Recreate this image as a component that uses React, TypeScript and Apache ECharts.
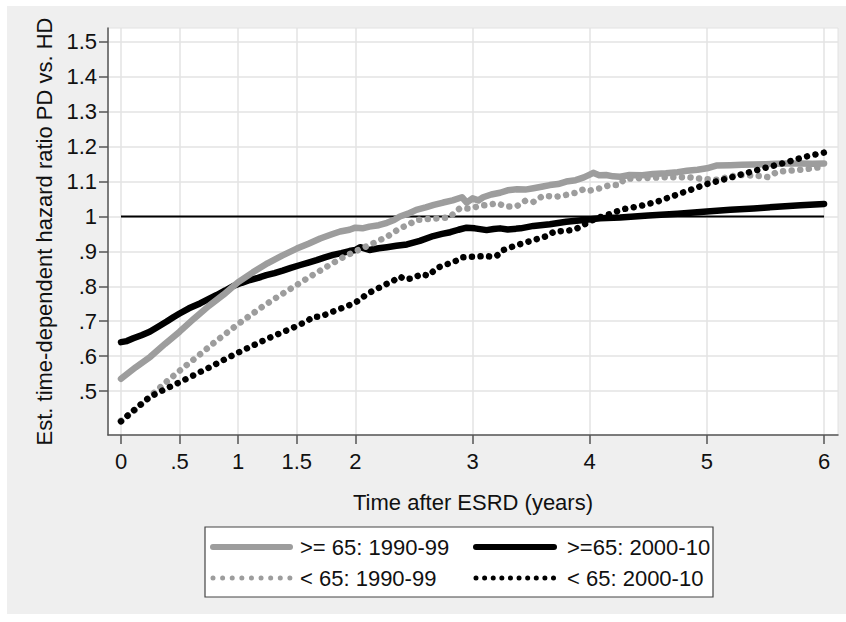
import React, { useEffect, useRef } from "react";
import * as echarts from "echarts";

// ---------- data ----------
const xTicks = [0, 0.5, 1, 1.5, 2, 3, 4, 5, 6];
const yTicks = [0.5, 0.6, 0.7, 0.8, 0.9, 1.0, 1.1, 1.2, 1.3, 1.4, 1.5];
const xTitle = "Time after ESRD (years)";
const yTitle = "Est. time-dependent hazard ratio PD vs. HD";
const seriesNames = [">= 65: 1990-99", ">=65: 2000-10", "< 65: 1990-99", "< 65: 2000-10"];

const refX = [0, 6];
const refY = [1, 1];

// >= 65: 1990-99 (gray solid)
const tA = [0, 0.125, 0.25, 0.375, 0.5, 0.625, 0.75, 0.875, 1.0, 1.125, 1.25, 1.375, 1.5, 1.6, 1.7, 1.8, 1.87, 1.95, 2.0, 2.06, 2.12, 2.2, 2.27, 2.33, 2.38, 2.45, 2.52, 2.6, 2.67, 2.75, 2.83, 2.91, 2.95, 3.0, 3.05, 3.09, 3.16, 3.235, 3.3, 3.38, 3.45, 3.52, 3.6, 3.66, 3.73, 3.8, 3.88, 3.95, 4.0, 4.03, 4.08, 4.14, 4.2, 4.26, 4.34, 4.45, 4.54, 4.65, 4.75, 4.83, 4.92, 5.0, 5.08, 5.2, 5.3, 5.4, 5.5, 5.6, 5.68, 5.8, 5.9, 6.0];
const vA = [0.535, 0.568, 0.598, 0.635, 0.670, 0.708, 0.744, 0.776, 0.812, 0.840, 0.866, 0.888, 0.908, 0.922, 0.937, 0.949, 0.957, 0.962, 0.968, 0.966, 0.971, 0.975, 0.982, 0.990, 1.000, 1.008, 1.019, 1.026, 1.033, 1.040, 1.046, 1.055, 1.040, 1.052, 1.046, 1.055, 1.063, 1.068, 1.075, 1.078, 1.077, 1.081, 1.086, 1.090, 1.093, 1.100, 1.104, 1.112, 1.120, 1.125, 1.118, 1.119, 1.115, 1.114, 1.119, 1.118, 1.122, 1.124, 1.127, 1.131, 1.134, 1.138, 1.146, 1.147, 1.148, 1.149, 1.150, 1.151, 1.152, 1.152, 1.151, 1.152];

// >=65: 2000-10 (black solid)
const tB = [0, 0.05, 0.105, 0.175, 0.245, 0.32, 0.39, 0.45, 0.5, 0.58, 0.674, 0.75, 0.817, 0.89, 0.958, 1.03, 1.1, 1.17, 1.24, 1.31, 1.38, 1.45, 1.53, 1.6, 1.67, 1.74, 1.81, 1.88, 1.95, 2.0, 2.04, 2.12, 2.2, 2.27, 2.35, 2.44, 2.55, 2.665, 2.74, 2.81, 2.88, 2.95, 3.02, 3.12, 3.18, 3.235, 3.3, 3.41, 3.52, 3.66, 3.8, 3.95, 4.09, 4.26, 4.5, 4.75, 5.0, 5.2, 5.4, 5.6, 5.8, 6.0];
const vB = [0.640, 0.643, 0.651, 0.660, 0.670, 0.685, 0.699, 0.712, 0.722, 0.737, 0.751, 0.764, 0.775, 0.788, 0.801, 0.810, 0.818, 0.824, 0.832, 0.838, 0.845, 0.853, 0.861, 0.868, 0.875, 0.883, 0.890, 0.895, 0.901, 0.904, 0.912, 0.904, 0.909, 0.912, 0.916, 0.920, 0.930, 0.944, 0.950, 0.955, 0.962, 0.968, 0.966, 0.961, 0.964, 0.966, 0.963, 0.966, 0.973, 0.978, 0.985, 0.990, 0.995, 0.997, 1.003, 1.008, 1.014, 1.019, 1.023, 1.028, 1.032, 1.036];

// < 65: 1990-99 (gray dotted)
const tC = [0, 0.1, 0.2, 0.3, 0.4, 0.5, 0.6, 0.7, 0.8, 0.9, 1.0, 1.1, 1.2, 1.3, 1.4, 1.5, 1.6, 1.7, 1.8, 1.9, 2.0, 2.15, 2.27, 2.38, 2.45, 2.52, 2.62, 2.72, 2.8, 2.89, 2.98, 3.06, 3.14, 3.21, 3.29, 3.38, 3.45, 3.52, 3.6, 3.72, 3.8, 3.88, 3.95, 4.0, 4.09, 4.17, 4.25, 4.3, 4.45, 4.6, 4.75, 4.86, 4.95, 5.08, 5.17, 5.26, 5.35, 5.45, 5.52, 5.6, 5.7, 5.77, 5.85, 5.92, 6.0];
const vC = [0.415, 0.440, 0.470, 0.500, 0.530, 0.558, 0.585, 0.612, 0.640, 0.666, 0.692, 0.716, 0.740, 0.762, 0.783, 0.804, 0.825, 0.845, 0.865, 0.884, 0.900, 0.923, 0.942, 0.966, 0.976, 0.990, 0.993, 0.995, 0.997, 1.023, 1.023, 1.030, 1.034, 1.038, 1.028, 1.030, 1.045, 1.042, 1.059, 1.057, 1.062, 1.068, 1.078, 1.074, 1.081, 1.090, 1.090, 1.108, 1.110, 1.112, 1.113, 1.112, 1.108, 1.105, 1.112, 1.119, 1.118, 1.116, 1.113, 1.128, 1.131, 1.133, 1.136, 1.139, 1.143];

// < 65: 2000-10 (black dotted)
const tD = [0, 0.12, 0.25, 0.375, 0.5, 0.625, 0.75, 0.875, 1.0, 1.125, 1.25, 1.375, 1.5, 1.6, 1.64, 1.7, 1.77, 1.84, 1.92, 2.0, 2.11, 2.18, 2.25, 2.32, 2.38, 2.42, 2.49, 2.566, 2.623, 2.694, 2.75, 2.808, 2.86, 2.908, 2.979, 3.04, 3.107, 3.16, 3.206, 3.263, 3.32, 3.377, 3.44, 3.505, 3.57, 3.633, 3.704, 3.75, 3.804, 3.875, 3.947, 4.0, 4.06, 4.145, 4.287, 4.43, 4.572, 4.714, 4.857, 5.0, 5.155, 5.311, 5.482, 5.667, 5.823, 6.0];
const vD = [0.413, 0.448, 0.484, 0.505, 0.525, 0.546, 0.567, 0.589, 0.610, 0.630, 0.650, 0.668, 0.686, 0.703, 0.713, 0.713, 0.722, 0.732, 0.742, 0.753, 0.780, 0.792, 0.804, 0.815, 0.828, 0.820, 0.823, 0.835, 0.830, 0.852, 0.860, 0.866, 0.873, 0.883, 0.885, 0.885, 0.887, 0.885, 0.887, 0.904, 0.911, 0.918, 0.924, 0.931, 0.937, 0.944, 0.958, 0.958, 0.959, 0.963, 0.976, 0.985, 0.995, 1.004, 1.021, 1.030, 1.042, 1.059, 1.076, 1.093, 1.107, 1.122, 1.138, 1.154, 1.170, 1.183];

// ---------- styles ----------
const GRAY = "#9d9d9d";
const BLACK = "#000000";
const FONT = '"Liberation Sans", Arial, Helvetica, sans-serif';
const FS = 22;
const OX = 7;
const OY = 6;

const zip = (t: number[], v: number[]) => t.map((x, i) => [x, v[i]]);
const fmt = (v: number) => {
  const s = String(Math.round(v * 10) / 10);
  return s.startsWith("0.") ? s.slice(1) : s;
};

export default function App() {
  const ref = useRef<HTMLDivElement>(null);

  useEffect(() => {
    if (!ref.current) return;
    const chart = echarts.init(ref.current, undefined, { renderer: "svg" });

    const dotted = (w: number, gap: number) => ({ type: [0.01, gap], cap: "round", join: "round", width: w });

    const legendX1 = 213 - OX;
    const legendX2 = 290 - OX;
    const legendX3 = 476 - OX;
    const legendX4 = 554 - OX;
    const row1 = 547 - OY;
    const row2 = 578 - OY;

    const legendText = (text: string, x: number, y: number) => ({
      type: "text",
      x,
      y,
      style: { text, fontSize: FS, fontFamily: FONT, fill: "#111", verticalAlign: "middle", align: "left" },
    });

    chart.setOption({
      animation: false,
      backgroundColor: "#efefef",
      textStyle: { fontFamily: FONT },
      grid: {
        left: 108 - OX,
        top: 28 - OY,
        width: 730,
        height: 407,
        show: true,
        backgroundColor: "#ffffff",
        borderColor: "#e2e2e2",
        borderWidth: 1,
      },
      xAxis: {
        type: "value",
        min: -0.111,
        max: 6.119,
        name: xTitle,
        nameLocation: "middle",
        nameGap: 56,
        nameTextStyle: { fontSize: FS, color: "#111", fontFamily: FONT },
        axisLine: { show: true, onZero: false, lineStyle: { color: "#555", width: 1.5 } },
        axisTick: { show: true, length: 9, customValues: xTicks, lineStyle: { color: "#555", width: 1.5 } },
        axisLabel: { customValues: xTicks, formatter: fmt, fontSize: FS, color: "#111", margin: 15, fontFamily: FONT },
        splitLine: { show: true, lineStyle: { color: "#e3e3e3", width: 1.5 } },
      },
      yAxis: {
        type: "value",
        min: 0.374,
        max: 1.54,
        name: yTitle,
        nameLocation: "middle",
        nameGap: 52,
        nameTextStyle: { fontSize: FS, color: "#111", fontFamily: FONT },
        axisLine: { show: true, onZero: false, lineStyle: { color: "#555", width: 1.5 } },
        axisTick: { show: true, length: 9, customValues: yTicks, lineStyle: { color: "#555", width: 1.5 } },
        axisLabel: { customValues: yTicks, formatter: fmt, fontSize: FS, color: "#111", margin: 11, fontFamily: FONT },
        splitLine: { show: true, lineStyle: { color: "#e3e3e3", width: 1.5 } },
      },
      series: [
        {
          name: "ref",
          type: "line",
          data: zip(refX, refY),
          symbol: "none",
          lineStyle: { color: BLACK, width: 2 },
          z: 1,
          silent: true,
        },
        {
          name: seriesNames[1],
          type: "line",
          data: zip(tB, vB),
          symbol: "none",
          lineStyle: { color: BLACK, width: 6.5, cap: "round", join: "round" },
          z: 2,
        },
        {
          name: seriesNames[0],
          type: "line",
          data: zip(tA, vA),
          symbol: "none",
          lineStyle: { color: GRAY, width: 6.5, cap: "round", join: "round" },
          z: 3,
        },
        {
          name: seriesNames[2],
          type: "line",
          data: zip(tC, vC),
          symbol: "none",
          lineStyle: { color: GRAY, ...dotted(6.5, 8.6) },
          z: 4,
        },
        {
          name: seriesNames[3],
          type: "line",
          data: zip(tD, vD),
          symbol: "none",
          lineStyle: { color: BLACK, ...dotted(6.5, 8.6) },
          z: 5,
        },
      ],
      graphic: [
        {
          type: "rect",
          shape: { x: 205 - OX, y: 527 - OY, width: 508, height: 70 },
          style: { fill: "#ffffff", stroke: "#444", lineWidth: 1.2 },
        },
        {
          type: "line",
          shape: { x1: legendX1, y1: row1, x2: legendX2, y2: row1 },
          style: { stroke: GRAY, lineWidth: 6, lineCap: "round" },
        },
        {
          type: "line",
          shape: { x1: legendX3, y1: row1, x2: legendX4, y2: row1 },
          style: { stroke: BLACK, lineWidth: 6, lineCap: "round" },
        },
        {
          type: "line",
          shape: { x1: legendX1, y1: row2, x2: legendX2, y2: row2 },
          style: { stroke: GRAY, lineWidth: 5, lineCap: "round", lineDash: [0.01, 9.6] },
        },
        {
          type: "line",
          shape: { x1: legendX3, y1: row2, x2: legendX4, y2: row2 },
          style: { stroke: BLACK, lineWidth: 5, lineCap: "round", lineDash: [0.01, 8.6] },
        },
        legendText(seriesNames[0], 300 - OX, row1),
        legendText(seriesNames[1], 567 - OX, row1),
        legendText(seriesNames[2], 300 - OX, row2),
        legendText(seriesNames[3], 567 - OX, row2),
      ],
    });

    return () => chart.dispose();
  }, []);

  return (
    <div
      ref={ref}
      style={{ position: "fixed", left: OX, top: OY, width: 846 - OX, height: 614 - OY }}
    />
  );
}
